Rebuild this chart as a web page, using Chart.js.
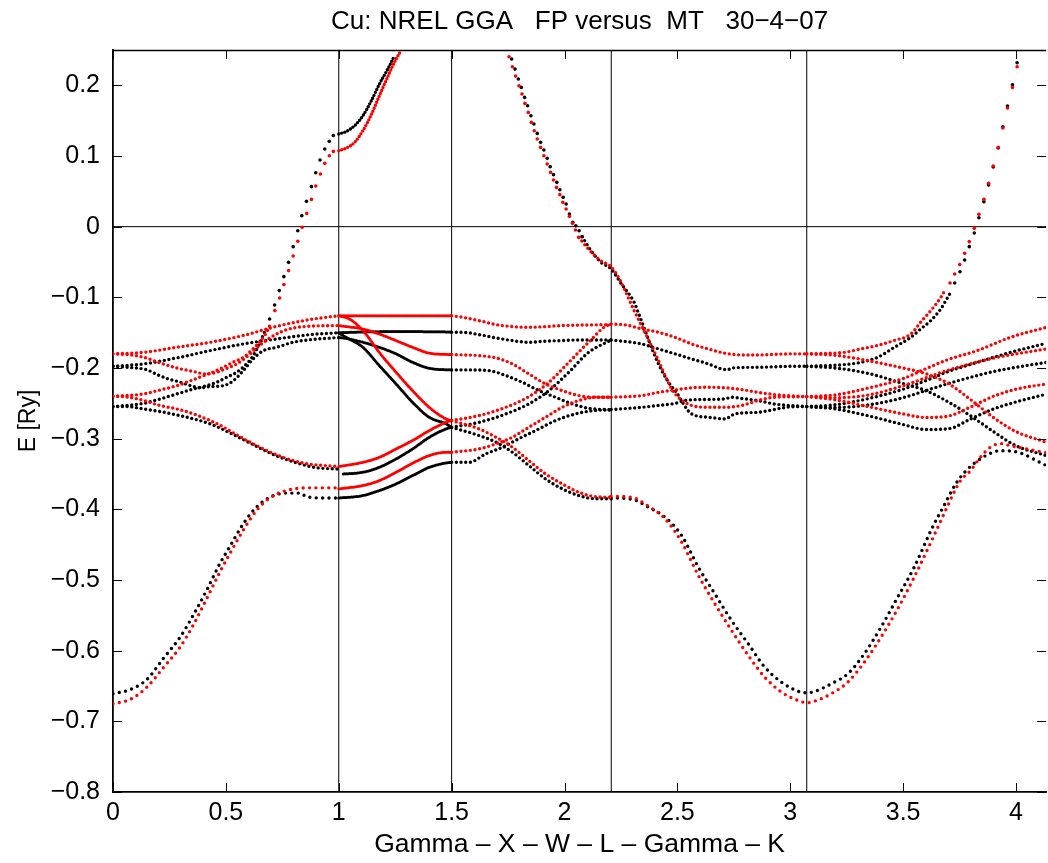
<!DOCTYPE html>
<html>
<head>
<meta charset="utf-8">
<script src="https://cdn.jsdelivr.net/npm/chart.js@4.4.1/dist/chart.umd.min.js"></script>
<style>
  html, body { margin: 0; padding: 0; background: #fff; }
  #wrap { width: 1048px; height: 863px; }
</style>
</head>
<body>
<div id="wrap"><canvas id="bands" width="1048" height="863"></canvas></div>
<script>
// ---- axes ---------------------------------------------------------------
const kMax = 4.1337;                       // Gamma-X-W-L-Gamma-K path length
const eMin = -0.8, eMax = 0.25;
const symK = [1, 1.5, 2.2071, 3.0731];      // X, W, L, Gamma
const xTicks = [0, 0.5, 1, 1.5, 2, 2.5, 3, 3.5, 4];
const yTicks = [-0.8, -0.7, -0.6, -0.5, -0.4, -0.3, -0.2, -0.1, 0, 0.1, 0.2];

// ---- FP bands (black), pairs [k, E in Ry] ---------------------------------
// Gamma - X
const FP_GX_s = [[0,-0.661],[0.076,-0.655],[0.149,-0.641],[0.223,-0.611],[0.297,-0.581],[0.355,-0.550],[0.414,-0.515],[0.473,-0.477],[0.517,-0.453],[0.576,-0.421],[0.635,-0.397],[0.694,-0.383],[0.767,-0.377],[0.833,-0.377],[0.855,-0.382],[0.944,-0.384],[1.0,-0.384]];
const FP_GX_a = [[0,-0.1976],[0.136,-0.1942],[0.283,-0.1857],[0.43,-0.1754],[0.577,-0.166],[0.725,-0.1589],[0.872,-0.1528],[1.0,-0.150]];
const FP_GX_b = [[0,-0.1976],[0.063,-0.199],[0.151,-0.2027],[0.195,-0.2093],[0.246,-0.2155],[0.298,-0.220],[0.357,-0.2263],[0.386,-0.228],[0.43,-0.2263],[0.489,-0.225],[0.533,-0.218],[0.577,-0.2037],[0.621,-0.187],[0.666,-0.1754],[0.725,-0.1707],[0.798,-0.1636],[0.872,-0.160],[0.945,-0.158],[1.0,-0.157]];
const FP_GX_c = [[0,-0.2546],[0.136,-0.250],[0.21,-0.2437],[0.283,-0.2367],[0.357,-0.2296],[0.4,-0.2263],[0.46,-0.220],[0.504,-0.213],[0.548,-0.206],[0.592,-0.194],[0.621,-0.1825],[0.651,-0.1636],[0.676,-0.146]];
const FP_GX_d = [[0,-0.2546],[0.063,-0.2546],[0.136,-0.258],[0.21,-0.2617],[0.283,-0.2664],[0.357,-0.272],[0.43,-0.279],[0.5,-0.289],[0.6,-0.305],[0.7,-0.321],[0.8,-0.333],[0.9,-0.341],[1.0,-0.343]];
const FP_GX_up = [[0.6937,-0.1306],[0.7158,-0.1108],[0.7364,-0.0905],[0.7568,-0.0707],[0.7775,-0.0505],[0.798,-0.0283],[0.8186,-0.0057],[0.8363,0.0156],[0.857,0.0358],[0.879,0.0566],[0.898,0.0764],[0.917,0.0943],[0.938,0.110],[0.958,0.1207],[0.976,0.129]];
// X - W
const FP_XW_up = [[1.0,0.1311],[1.034,0.1348],[1.07,0.1429],[1.107,0.157],[1.144,0.178],[1.18,0.2018],[1.217,0.223],[1.247,0.2419]];
const FP_XW_a = [[1.0,-0.150],[1.2,-0.1485],[1.35,-0.1485],[1.5,-0.149]];
const FP_XW_b = [[1.0,-0.157],[1.019,-0.1575],[1.107,-0.1636],[1.18,-0.1707],[1.254,-0.180],[1.327,-0.1919],[1.401,-0.2004],[1.5,-0.2027]];
const FP_XW_c = [[1.0,-0.150],[1.019,-0.154],[1.107,-0.1707],[1.18,-0.1966],[1.254,-0.2225],[1.327,-0.2485],[1.401,-0.2697],[1.475,-0.279],[1.5,-0.284]];
const FP_XW_d = [[1.02,-0.350],[1.107,-0.3475],[1.18,-0.3404],[1.254,-0.3286],[1.327,-0.3145],[1.401,-0.298],[1.475,-0.2862],[1.5,-0.284]];
const FP_XW_e = [[1.0,-0.384],[1.107,-0.3805],[1.18,-0.3734],[1.254,-0.364],[1.327,-0.3522],[1.401,-0.3405],[1.475,-0.3343],[1.5,-0.3334]];
// W - L
const FP_WL_a = [[1.5,-0.1495],[1.549,-0.1495],[1.622,-0.1528],[1.696,-0.1574],[1.769,-0.1612],[1.842,-0.1636],[1.916,-0.162],[1.99,-0.1612],[2.063,-0.1603],[2.207,-0.1603]];
const FP_WL_b = [[1.5,-0.2027],[1.578,-0.2027],[1.666,-0.2037],[1.74,-0.2107],[1.813,-0.2202],[1.887,-0.232],[1.96,-0.2414],[2.034,-0.2508],[2.107,-0.257],[2.207,-0.2593]];
const FP_WL_c = [[1.5,-0.284],[1.622,-0.2768],[1.74,-0.265],[1.842,-0.2508],[1.931,-0.232],[2.019,-0.206],[2.107,-0.1778],[2.207,-0.1603]];
const FP_WL_d = [[1.5,-0.3334],[1.578,-0.3334],[1.651,-0.3216],[1.725,-0.312],[1.798,-0.300],[1.872,-0.2885],[1.96,-0.2744],[2.049,-0.265],[2.137,-0.260],[2.207,-0.2593]];
const FP_WL_e = [[1.5,-0.284],[1.622,-0.2956],[1.696,-0.305],[1.769,-0.3192],[1.842,-0.338],[1.916,-0.357],[1.99,-0.371],[2.063,-0.3805],[2.137,-0.385],[2.207,-0.385]];
const FP_WL_dn = [[1.7660,0.2372],[1.7807,0.2230],[1.7954,0.2089],[1.8086,0.1971],[1.8233,0.1829],[1.8366,0.1711],[1.8513,0.1570],[1.8645,0.1452],[1.8793,0.1320],[1.8940,0.1193],[1.9087,0.1084],[1.9234,0.0967],[1.9366,0.0849],[1.9513,0.0736],[1.9660,0.0627],[1.9793,0.0523],[1.9940,0.0415],[2.0072,0.0321],[2.0219,0.0179],[2.0366,0.0061],[2.0499,0.0014],[2.0646,-0.0057],[2.0778,-0.0141]];
// L - Gamma
const FP_LG_a = [[2.207,-0.1603],[2.343,-0.166],[2.416,-0.173],[2.49,-0.180],[2.563,-0.1872],[2.637,-0.1942],[2.695,-0.2013],[2.725,-0.2023],[2.74,-0.200],[2.857,-0.199],[3.004,-0.1976],[3.073,-0.1976]];
const FP_LG_b = [[2.207,-0.2588],[2.343,-0.2556],[2.416,-0.253],[2.49,-0.250],[2.534,-0.246],[2.593,-0.2447],[2.71,-0.2437],[2.74,-0.2414],[2.799,-0.2437],[2.857,-0.246],[2.93,-0.251],[3.004,-0.2532],[3.073,-0.2546]];
const FP_LG_c = [[2.078,-0.0141],[2.12,-0.035],[2.16,-0.050],[2.207,-0.060],[2.25,-0.080],[2.31,-0.108],[2.328,-0.1226],[2.36,-0.1495],[2.394,-0.178],[2.431,-0.2037],[2.468,-0.2235],[2.49,-0.232],[2.563,-0.265],[2.637,-0.2697],[2.71,-0.272],[2.755,-0.265],[2.857,-0.2626],[3.004,-0.255],[3.073,-0.2546]];
// s-band L - Gamma - K
const FP_LK_s = [[2.206,-0.3838],[2.298,-0.3857],[2.372,-0.397],[2.446,-0.4112],[2.519,-0.4371],[2.593,-0.4819],[2.666,-0.5196],[2.740,-0.5573],[2.814,-0.5903],[2.887,-0.6233],[2.961,-0.6445],[3.034,-0.6573],[3.074,-0.6596],[3.108,-0.6577],[3.181,-0.6469],[3.255,-0.6327],[3.328,-0.6044],[3.402,-0.5667],[3.476,-0.5243],[3.549,-0.4819],[3.623,-0.4300],[3.681,-0.3946],[3.733,-0.3640],[3.78,-0.345],[3.85,-0.327],[3.931,-0.317],[4.005,-0.319],[4.134,-0.338]];
// Gamma - K
const FP_GK_a = [[3.073,-0.1976],[3.24,-0.1952],[3.313,-0.192],[3.387,-0.1849],[3.461,-0.1707],[3.534,-0.1566],[3.578,-0.1447],[3.622,-0.133],[3.667,-0.1164],[3.689,-0.1047],[3.71,-0.093]];
const FP_GK_up = [[3.7283,-0.0797],[3.7518,-0.0637],[3.7724,-0.0471],[3.793,-0.0283],[3.8151,-0.009],[3.8357,0.0127],[3.8578,0.0354],[3.8784,0.059],[3.899,0.0844],[3.9211,0.1113],[3.9416,0.1414],[3.9622,0.1707],[3.9843,0.2008],[4.0049,0.232]];
const FP_GK_b = [[3.073,-0.1976],[3.2,-0.200],[3.35,-0.208],[3.5,-0.222],[3.6,-0.232],[3.7,-0.248],[3.8,-0.268],[3.9,-0.29],[4.0,-0.31],[4.134,-0.324]];
const FP_GK_c = [[3.073,-0.2546],[3.2,-0.252],[3.35,-0.243],[3.5,-0.230],[3.6,-0.218],[3.7,-0.205],[3.828,-0.192],[3.975,-0.178],[4.134,-0.165]];
const FP_GK_d = [[3.073,-0.2546],[3.2,-0.256],[3.35,-0.252],[3.5,-0.242],[3.6,-0.232],[3.7,-0.222],[3.8,-0.213],[3.9,-0.205],[4.0,-0.199],[4.134,-0.192]];
const FP_GK_e = [[3.073,-0.2546],[3.2,-0.258],[3.35,-0.268],[3.5,-0.280],[3.6,-0.287],[3.7,-0.286],[3.8,-0.272],[3.9,-0.258],[4.0,-0.248],[4.134,-0.237]];

// ---- MT bands (red) -------------------------------------------------------
const MT_GX_s = [[0,-0.675],[0.076,-0.669],[0.149,-0.652],[0.223,-0.624],[0.297,-0.595],[0.355,-0.564],[0.414,-0.527],[0.473,-0.489],[0.517,-0.463],[0.576,-0.430],[0.635,-0.402],[0.694,-0.384],[0.767,-0.3734],[0.885,-0.3696],[1.0,-0.3696]];
const MT_GX_a = [[0,-0.180],[0.136,-0.1778],[0.283,-0.1707],[0.43,-0.1636],[0.577,-0.1540],[0.725,-0.141],[0.872,-0.1315],[1.0,-0.126]];
const MT_GX_b = [[0,-0.180],[0.063,-0.181],[0.136,-0.1848],[0.21,-0.193],[0.283,-0.200],[0.357,-0.205],[0.41,-0.2084],[0.46,-0.206],[0.5,-0.201],[0.55,-0.194],[0.6,-0.182],[0.65,-0.168],[0.7,-0.1565],[0.75,-0.148],[0.8,-0.1433],[0.9,-0.1405],[1.0,-0.140]];
const MT_GX_c = [[0,-0.240],[0.136,-0.2367],[0.21,-0.231],[0.283,-0.225],[0.357,-0.2164],[0.415,-0.2093],[0.474,-0.2013],[0.53,-0.192],[0.577,-0.185],[0.62,-0.173],[0.666,-0.1565],[0.688,-0.1447],[0.70,-0.1353]];
const MT_GX_d = [[0,-0.240],[0.063,-0.241],[0.136,-0.246],[0.21,-0.2532],[0.283,-0.258],[0.357,-0.265],[0.43,-0.2744],[0.474,-0.281],[0.55,-0.295],[0.65,-0.312],[0.75,-0.326],[0.85,-0.335],[1.0,-0.3395]];
const MT_GX_up = [[0.717,-0.1188],[0.738,-0.1009],[0.757,-0.082],[0.7775,-0.0622],[0.798,-0.0415],[0.8186,-0.0207],[0.8377,-0.001],[0.8583,0.0188],[0.879,0.0386],[0.898,0.0575],[0.9186,0.0745],[0.938,0.0896],[0.9585,0.1004],[0.976,0.1065]];
const MT_XW_up = [[1.0,0.1075],[1.034,0.1113],[1.07,0.1193],[1.107,0.1358],[1.144,0.1584],[1.18,0.1853],[1.217,0.2122],[1.254,0.2372],[1.276,0.249]];
const MT_XW_a = [[1.0,-0.126],[1.2,-0.126],[1.35,-0.126],[1.5,-0.126]];
const MT_XW_b = [[1.0,-0.140],[1.105,-0.1447],[1.179,-0.1518],[1.254,-0.1612],[1.327,-0.1707],[1.402,-0.179],[1.5,-0.181]];
const MT_XW_c = [[1.0,-0.126],[1.048,-0.1306],[1.107,-0.147],[1.18,-0.178],[1.254,-0.206],[1.327,-0.232],[1.401,-0.2556],[1.475,-0.272],[1.5,-0.2744]];
const MT_XW_d = [[1.0,-0.3395],[1.107,-0.3334],[1.18,-0.3263],[1.254,-0.3145],[1.327,-0.3027],[1.401,-0.2885],[1.475,-0.2768],[1.5,-0.2744]];
const MT_XW_e = [[1.0,-0.371],[1.107,-0.3663],[1.18,-0.3593],[1.254,-0.3475],[1.327,-0.3348],[1.401,-0.3239],[1.475,-0.3192],[1.5,-0.3192]];
const MT_WL_a = [[1.5,-0.126],[1.549,-0.1283],[1.622,-0.133],[1.696,-0.1386],[1.769,-0.1414],[1.842,-0.1424],[1.916,-0.1414],[1.99,-0.140],[2.207,-0.1386]];
const MT_WL_b = [[1.5,-0.181],[1.622,-0.1825],[1.696,-0.1857],[1.769,-0.1942],[1.842,-0.2083],[1.916,-0.2225],[1.99,-0.232],[2.063,-0.239],[2.137,-0.2414],[2.207,-0.2414]];
const MT_WL_c = [[1.5,-0.2744],[1.622,-0.2673],[1.74,-0.2556],[1.842,-0.2405],[1.931,-0.2202],[2.019,-0.192],[2.107,-0.1636],[2.195,-0.139],[2.207,-0.1386]];
const MT_WL_d = [[1.5,-0.3192],[1.622,-0.3145],[1.696,-0.3074],[1.769,-0.298],[1.842,-0.2839],[1.916,-0.2697],[1.99,-0.2556],[2.063,-0.246],[2.137,-0.2414],[2.207,-0.2414]];
const MT_WL_e = [[1.5,-0.2744],[1.622,-0.2862],[1.696,-0.298],[1.769,-0.3121],[1.842,-0.331],[1.916,-0.3498],[1.99,-0.364],[2.063,-0.3758],[2.137,-0.382],[2.207,-0.383]];
const MT_WL_dn = [[1.7542,0.2405],[1.7689,0.2263],[1.7836,0.2131],[1.7983,0.1994],[1.8116,0.1877],[1.8248,0.1744],[1.8395,0.1617],[1.8528,0.1476],[1.8660,0.1358],[1.8793,0.1240],[1.8940,0.1122],[1.9087,0.1004],[1.9234,0.0886],[1.9381,0.0768],[1.9513,0.0660],[1.9646,0.0556],[1.9793,0.0453],[1.9925,0.0344],[2.0072,0.0250],[2.0219,0.0146],[2.0352,0.0047],[2.0484,-0.0047],[2.0631,-0.0151]];
const MT_LG_a = [[2.207,-0.1377],[2.269,-0.139],[2.343,-0.1447],[2.416,-0.1495],[2.49,-0.1566],[2.563,-0.166],[2.637,-0.173],[2.71,-0.179],[2.784,-0.1815],[2.857,-0.1815],[3.004,-0.180],[3.073,-0.180]];
const MT_LG_b = [[2.207,-0.2414],[2.343,-0.239],[2.416,-0.2344],[2.49,-0.231],[2.563,-0.228],[2.637,-0.2273],[2.71,-0.228],[2.784,-0.2305],[2.857,-0.2344],[2.93,-0.2376],[3.004,-0.2395],[3.073,-0.2405]];
const MT_LG_c = [[2.0631,-0.0151],[2.11,-0.033],[2.16,-0.048],[2.207,-0.057],[2.25,-0.078],[2.276,-0.096],[2.31,-0.1198],[2.36,-0.152],[2.41,-0.185],[2.475,-0.2296],[2.504,-0.2414],[2.563,-0.253],[2.637,-0.2556],[2.71,-0.2556],[2.784,-0.253],[2.857,-0.246],[2.93,-0.2414],[3.073,-0.2405]];
const MT_LK_s = [[2.206,-0.3815],[2.298,-0.383],[2.372,-0.3956],[2.446,-0.4135],[2.519,-0.4465],[2.593,-0.4936],[2.666,-0.5337],[2.740,-0.5714],[2.814,-0.6068],[2.887,-0.6375],[2.961,-0.6587],[3.034,-0.6704],[3.074,-0.6737],[3.108,-0.6714],[3.181,-0.661],[3.255,-0.6445],[3.328,-0.6163],[3.402,-0.5809],[3.476,-0.5407],[3.549,-0.496],[3.623,-0.4465],[3.681,-0.4064],[3.733,-0.371],[3.755,-0.359],[3.799,-0.345],[3.843,-0.326],[3.887,-0.312],[3.931,-0.307],[3.975,-0.310],[4.049,-0.3145],[4.134,-0.320]];
const MT_GK_a = [[3.073,-0.180],[3.24,-0.1778],[3.313,-0.173],[3.387,-0.168],[3.461,-0.161],[3.534,-0.152],[3.578,-0.135],[3.622,-0.119],[3.667,-0.100],[3.6885,-0.0882]];
const MT_GK_up = [[3.7077,-0.0797],[3.7283,-0.0669],[3.7504,-0.0537],[3.7724,-0.0377],[3.7930,-0.0212],[3.8151,-0.0024],[3.8357,0.0174],[3.8578,0.0387],[3.8784,0.0613],[3.8990,0.0858],[3.9211,0.1122],[3.9416,0.1396],[3.9622,0.1679],[3.9843,0.1971],[4.0049,0.2263]];
const MT_GK_b = [[3.073,-0.180],[3.2,-0.182],[3.35,-0.19],[3.5,-0.2],[3.6,-0.208],[3.7,-0.222],[3.8,-0.245],[3.9,-0.27],[4.0,-0.29],[4.134,-0.305]];
const MT_GK_c = [[3.073,-0.2405],[3.2,-0.238],[3.35,-0.228],[3.5,-0.215],[3.608,-0.20],[3.7,-0.188],[3.828,-0.1754],[3.975,-0.1566],[4.134,-0.1424]];
const MT_GK_d = [[3.073,-0.2405],[3.2,-0.242],[3.35,-0.238],[3.5,-0.225],[3.6,-0.214],[3.7,-0.203],[3.8,-0.194],[3.9,-0.186],[4.0,-0.18],[4.134,-0.173]];
const MT_GK_e = [[3.073,-0.2405],[3.2,-0.245],[3.35,-0.255],[3.5,-0.265],[3.6,-0.27],[3.7,-0.268],[3.8,-0.255],[3.9,-0.24],[4.0,-0.23],[4.134,-0.2225]];

// ---- drawing helpers ------------------------------------------------------
const BLACK = '#000000', RED = '#ff0000';
const FONT = "'Liberation Sans', Arial, Helvetica, sans-serif";
const toXY = a => a.map(([x, y]) => ({ x, y }));

function dotted(a, color, gap = 4.7, width = 3.4) {
  return {
    data: toXY(a), showLine: true, fill: false,
    borderColor: color, backgroundColor: color,
    borderWidth: width, borderDash: [0, gap], borderCapStyle: 'round',
    cubicInterpolationMode: 'monotone',
    pointRadius: 0, pointHoverRadius: 0,
    order: color === RED ? 1 : 2
  };
}
function dots(a, color) {
  return {
    data: toXY(a), showLine: false,
    pointRadius: 1.8, pointHoverRadius: 1.8, pointBorderWidth: 0,
    pointBackgroundColor: color, borderColor: color, backgroundColor: color,
    order: color === RED ? 1 : 2
  };
}
function rule(a) {
  return {
    data: toXY(a), showLine: true, fill: false,
    borderColor: BLACK, borderWidth: 1, tension: 0,
    pointRadius: 0, pointHoverRadius: 0, order: 10
  };
}

const datasets = [];
symK.forEach(k => datasets.push(rule([[k, eMin], [k, eMax]])));
datasets.push(rule([[0, 0], [kMax, 0]]));

const fpLines = [FP_GX_a, FP_GX_b, FP_GX_c, FP_GX_d, FP_WL_a, FP_WL_b, FP_WL_c, FP_WL_d, FP_WL_e,
                 FP_LG_a, FP_LG_b, FP_LG_c, FP_GK_a, FP_GK_b, FP_GK_c, FP_GK_d, FP_GK_e];
const mtLines = [MT_GX_a, MT_GX_b, MT_GX_c, MT_GX_d, MT_WL_a, MT_WL_b, MT_WL_c, MT_WL_d, MT_WL_e,
                 MT_LG_a, MT_LG_b, MT_LG_c, MT_GK_a, MT_GK_b, MT_GK_c, MT_GK_d, MT_GK_e];
fpLines.forEach(a => datasets.push(dotted(a, BLACK)));
mtLines.forEach(a => datasets.push(dotted(a, RED)));
// X - W is sampled much more finely, so its dots merge into solid strokes
[FP_XW_a, FP_XW_b, FP_XW_c, FP_XW_d, FP_XW_e].forEach(a => datasets.push(dotted(a, BLACK, 1.6, 3)));
[MT_XW_a, MT_XW_b, MT_XW_c, MT_XW_d, MT_XW_e].forEach(a => datasets.push(dotted(a, RED, 1.6, 3)));
datasets.push(dotted(FP_XW_up, BLACK, 3.2), dotted(MT_XW_up, RED, 3.2));
datasets.push(dotted(FP_GX_s, BLACK, 6.4), dotted(FP_LK_s, BLACK, 6.4));
datasets.push(dotted(MT_GX_s, RED, 6.4), dotted(MT_LK_s, RED, 6.4));
[FP_GX_up, FP_WL_dn, FP_GK_up].forEach(a => datasets.push(dots(a, BLACK)));
[MT_GX_up, MT_WL_dn, MT_GK_up].forEach(a => datasets.push(dots(a, RED)));

// box frame with inward ticks on all four sides
const frame = {
  id: 'frame',
  afterDraw(chart) {
    const { ctx, chartArea: { left, right, top, bottom }, scales: { x, y } } = chart;
    ctx.save();
    ctx.strokeStyle = BLACK;
    ctx.lineWidth = 1.3;
    ctx.beginPath();
    ctx.moveTo(left, top + 0.5); ctx.lineTo(right, top + 0.5);
    ctx.stroke();
    ctx.lineWidth = 1;
    ctx.beginPath();
    xTicks.forEach(v => {
      const px = Math.round(x.getPixelForValue(v)) + 0.5;
      ctx.moveTo(px, bottom); ctx.lineTo(px, bottom - 9);
      ctx.moveTo(px, top); ctx.lineTo(px, top + 9);
    });
    yTicks.forEach(v => {
      const py = Math.round(y.getPixelForValue(v)) + 0.5;
      ctx.moveTo(left, py); ctx.lineTo(left + 9, py);
      ctx.moveTo(right, py); ctx.lineTo(right - 9, py);
    });
    ctx.stroke();
    ctx.restore();
  }
};

const fmt = v => (v < 0 ? '\u2212' : '') + (Math.abs(v) < 1e-9 ? '0' : String(Math.abs(+v.toFixed(2))));

new Chart(document.getElementById('bands'), {
  type: 'line',
  data: { datasets },
  plugins: [frame],
  options: {
    responsive: false,
    animation: false,
    events: [],
    layout: { padding: 0 },
    plugins: {
      legend: { display: false },
      tooltip: { enabled: false },
      title: {
        display: true, fullSize: false,
        text: 'Cu: NREL GGA   FP versus  MT   30\u22124\u221207',
        color: BLACK,
        font: { family: FONT, size: 26, weight: 'normal' },
        padding: { top: 6, bottom: 12.8 }
      }
    },
    scales: {
      x: {
        type: 'linear', min: 0, max: kMax,
        afterBuildTicks: s => { s.ticks = xTicks.map(v => ({ value: v })); },
        afterFit: s => { s.height = 71; },
        grid: { display: false, drawTicks: false },
        border: { display: true, color: BLACK, width: 1.8 },
        ticks: { color: BLACK, font: { family: FONT, size: 25 }, padding: 6, maxRotation: 0, autoSkip: false, callback: fmt },
        title: { display: true, text: 'Gamma \u2013 X \u2013 W \u2013 L \u2013 Gamma \u2013 K', color: BLACK,
                 font: { family: FONT, size: 26.5 }, padding: { top: 0, bottom: 2 } }
      },
      y: {
        type: 'linear', min: eMin, max: eMax,
        afterBuildTicks: s => { s.ticks = yTicks.map(v => ({ value: v })); },
        afterFit: s => { s.width = 113; },
        grid: { display: false, drawTicks: false },
        border: { display: true, color: BLACK, width: 1.8 },
        ticks: { color: BLACK, font: { family: FONT, size: 25 }, padding: 13, autoSkip: false, callback: fmt },
        title: { display: true, text: 'E [Ry]', color: BLACK,
                 font: { family: FONT, size: 23 }, padding: { top: 15, bottom: 0 } }
      }
    }
  }
});
</script>
</body>
</html>
